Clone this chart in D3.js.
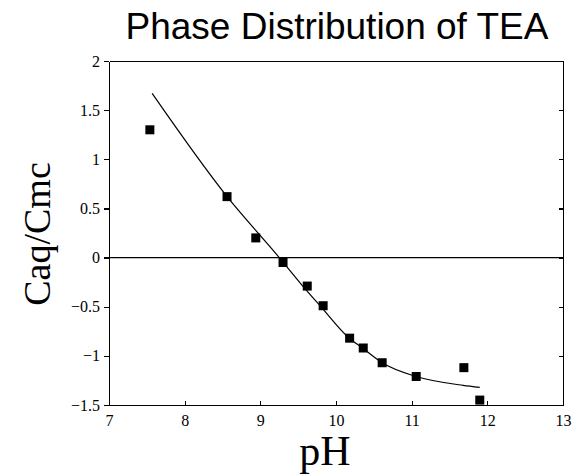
<!DOCTYPE html>
<html lang="en">
<head>
  <meta charset="UTF-8">
  <title>Phase Distribution of TEA</title>
  <script src="https://d3js.org/d3.v7.min.js"></script>
  <style>
    body {
      margin: 0;
      background: #ffffff;
    }
    svg {
      background-color: #ffffff;
    }
    .axis path,
    .axis line {
      stroke: #000;
      stroke-width: 1.3;
      shape-rendering: crispEdges;
    }
    .axis text {
      font-family: "Liberation Serif", "DejaVu Serif", serif;
      font-size: 16px;
      fill: #000;
    }
    .chart-title {
      font-family: "Liberation Sans", Arial, sans-serif;
      font-size: 37px;
      fill: #000;
    }
    .axis-label {
      font-family: "Liberation Serif", "Times New Roman", serif;
      fill: #000;
    }
    .fit-line {
      fill: none;
      stroke: #000;
      stroke-width: 1.2;
    }
  </style>
</head>
<body>
  <svg width="574" height="474"></svg>

  <script>
    const width = 574;
    const height = 474;
    const margin = { top: 61, right: 11, bottom: 69, left: 109 };

    // Measured points (pH, Caq/Cmc)
    const pointPH = [7.54, 8.56, 8.94, 9.30, 9.62, 9.83, 10.18, 10.36, 10.61, 11.06, 11.69, 11.90];
    const pointRatio = [1.30, 0.62, 0.20, -0.05, -0.29, -0.49, -0.82, -0.92, -1.07, -1.21, -1.12, -1.45];

    // Fitted curve
    const curvePH = [7.57, 8.55, 9.25, 9.55, 9.80, 10.16, 10.35, 10.61, 11.06, 11.68, 11.90];
    const curveRatio = [1.67, 0.63, 0.0, -0.28, -0.50, -0.81, -0.92, -1.07, -1.21, -1.30, -1.32];

    const xTicks = [7, 8, 9, 10, 11, 12, 13];
    const yTicks = [-1.5, -1, -0.5, 0, 0.5, 1, 1.5, 2];

    const points = pointPH.map((x, i) => ({ x: x, y: pointRatio[i] }));
    const curve = curvePH.map((x, i) => ({ x: x, y: curveRatio[i] }));

    const svg = d3.select("svg");

    const xScale = d3.scaleLinear()
      .domain([7, 13])
      .range([margin.left, width - margin.right]);

    const yScale = d3.scaleLinear()
      .domain([-1.5, 2])
      .range([height - margin.bottom, margin.top]);

    const fmt = d => (d < 0 ? "\u2212" : "") + Math.abs(d);

    // Left axis
    svg.append("g")
      .attr("class", "axis")
      .attr("transform", `translate(${margin.left},0)`)
      .call(d3.axisLeft(yScale).tickValues(yTicks).tickSize(5).tickSizeOuter(0).tickPadding(4).tickFormat(fmt));

    // Bottom axis
    svg.append("g")
      .attr("class", "axis")
      .attr("transform", `translate(0,${height - margin.bottom})`)
      .call(d3.axisBottom(xScale).tickValues(xTicks).tickSize(-4).tickSizeOuter(0).tickPadding(10).tickFormat(d3.format("d")));

    // Right and top frame
    svg.append("g")
      .attr("class", "axis")
      .attr("transform", `translate(${width - margin.right},0)`)
      .call(d3.axisRight(yScale).tickValues(yTicks).tickSize(-4).tickSizeOuter(0).tickFormat(""));

    svg.append("g")
      .attr("class", "axis")
      .attr("transform", `translate(0,${margin.top})`)
      .call(d3.axisTop(xScale).tickValues(xTicks).tickSize(0).tickSizeOuter(0).tickFormat(""));

    // Zero line
    svg.append("line")
      .attr("x1", xScale(7))
      .attr("x2", xScale(13))
      .attr("y1", yScale(0))
      .attr("y2", yScale(0))
      .attr("stroke", "#000")
      .attr("stroke-width", 1.2);

    // Fitted curve
    const line = d3.line()
      .x(d => xScale(d.x))
      .y(d => yScale(d.y))
      .curve(d3.curveMonotoneX);

    svg.append("path")
      .datum(curve)
      .attr("class", "fit-line")
      .attr("d", line);

    // Square markers
    const s = 9;
    svg.append("g")
      .selectAll("rect")
      .data(points)
      .join("rect")
      .attr("x", d => xScale(d.x) - s / 2)
      .attr("y", d => yScale(d.y) - s / 2)
      .attr("width", s)
      .attr("height", s)
      .attr("fill", "#000");

    // Title
    svg.append("text")
      .attr("class", "chart-title")
      .attr("x", 337)
      .attr("y", 39)
      .attr("text-anchor", "middle")
      .text("Phase Distribution of TEA");

    // Axis labels
    svg.append("text")
      .attr("class", "axis-label")
      .attr("x", 325)
      .attr("y", 465)
      .attr("text-anchor", "middle")
      .style("font-size", "42px")
      .text("pH");

    svg.append("text")
      .attr("class", "axis-label")
      .attr("transform", "translate(50,234) rotate(-90)")
      .attr("text-anchor", "middle")
      .style("font-size", "38px")
      .text("Caq/Cmc");
  </script>
</body>
</html>
